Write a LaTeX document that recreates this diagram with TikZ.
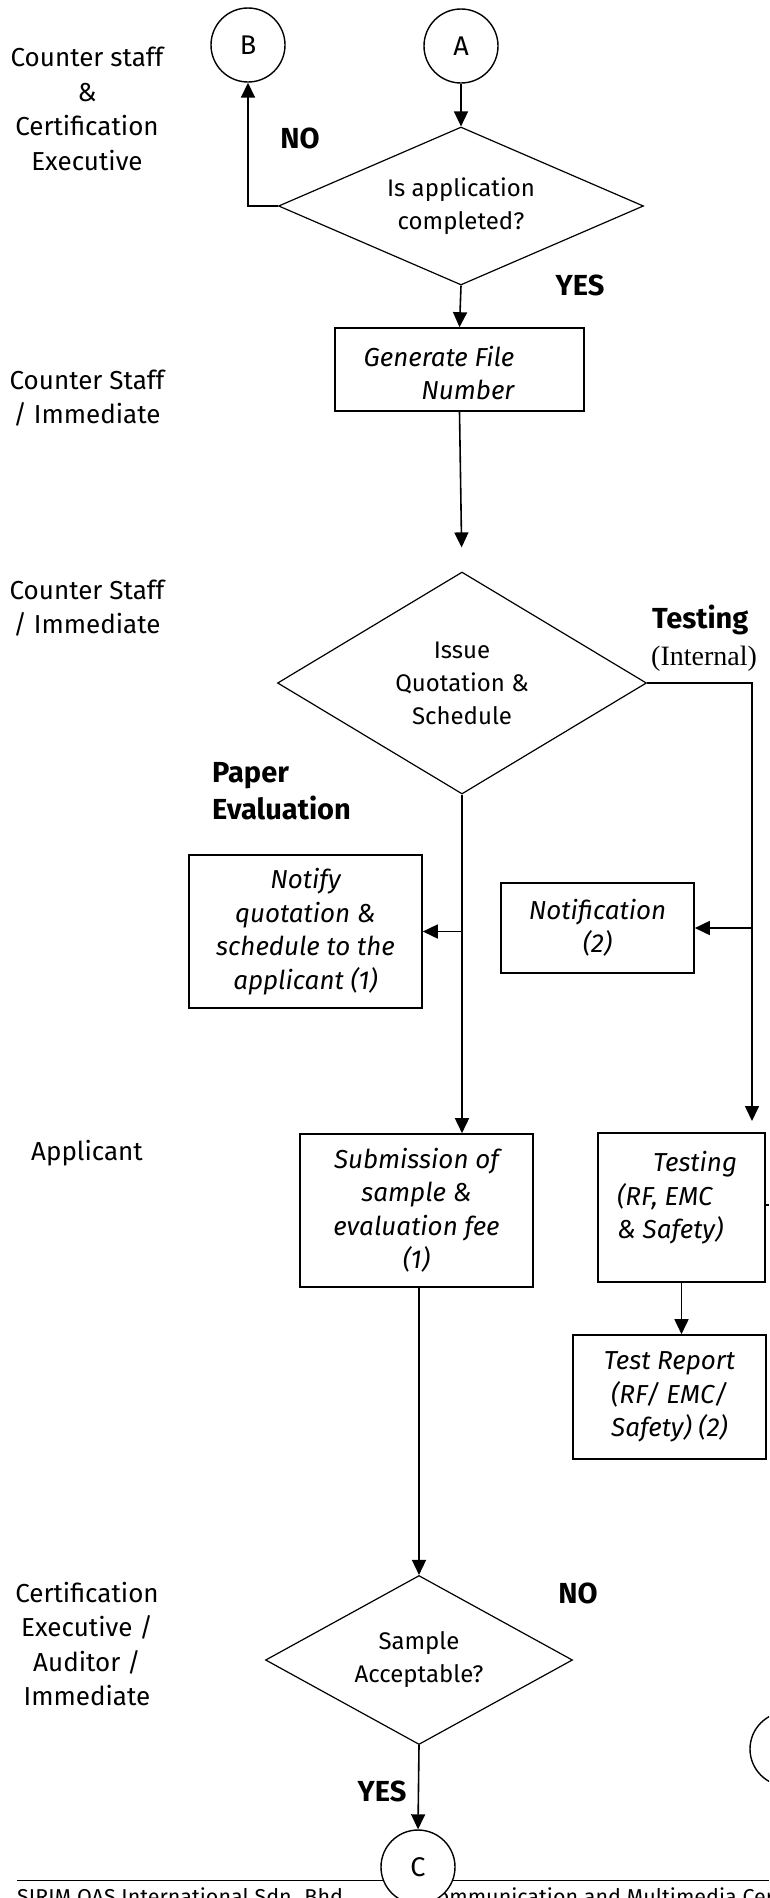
\documentclass[tikz,border=0pt]{standalone}
\usepackage{fontspec}
\setmainfont{Fira Sans}
\newfontfamily\serifface{Liberation Serif}
\usetikzlibrary{shapes.geometric,arrows.meta}
\begin{document}
\begin{tikzpicture}[x=1pt,y=-1pt,
  every node/.style={font=\fontsize{26}{34.5}\selectfont},
  ln/.style={line width=1.6pt},
  arr/.style={line width=1.6pt,-{Triangle[length=15pt,width=14pt]}},
  box/.style={draw,line width=1.6pt,rectangle,inner sep=0pt},
  dia/.style={draw,line width=1.2pt,diamond,inner sep=0pt,align=center,font=\fontsize{24}{33}\selectfont},
  conn/.style={draw,line width=1.4pt,circle,inner sep=0pt,minimum size=74pt,fill=white,font=\fontsize{27}{30}\selectfont},
  itx/.style={font=\fontsize{26}{33.5}\selectfont\itshape,align=center},
  role/.style={align=center},
  btx/.style={font=\fontsize{29}{37}\selectfont\bfseries,align=left,inner sep=0pt},
]
\useasboundingbox (0,0) rectangle (769,1898);
\clip (0,0) rectangle (769,1898);

% role labels
\node[role] (r1) at (87,109) {Counter staff\\\&\\Certification\\Executive};
\node[role] (r2) at (87,398) {Counter Staff\\/ Immediate};
\node[role] (r3) at (87,608) {Counter Staff\\/ Immediate};
\node[role] (r4) at (87,1153) {Applicant};
\node[role] (r5) at (87,1644) {Certification\\Executive /\\Auditor /\\Immediate};

% connectors (circles)
\node[conn] (B) at (248,45) {B};
\node[conn] (A) at (461,46) {A};

% decision 1
\node[dia,minimum width=365pt,minimum height=158pt,shape aspect=2.31] (d1) at (461,206) {Is application\\completed?};
\node[btx] (no1) at (300,138) {NO};
\node[btx] (yes1) at (580,285) {YES};

% generate file number
\node[box,minimum width=249pt,minimum height=83pt] (gen) at (459.5,369.5) {};
\node[itx,align=right] (gent) at (439,373) {Generate File\\Number};

% decision 2
\node[dia,minimum width=369pt,minimum height=222pt,shape aspect=1.66] (d2) at (462,683) {Issue\\Quotation \&\\Schedule};
\node[btx,anchor=west] (tst1) at (652,620) {Testing};
\node[anchor=west,inner sep=0pt,font=\fontsize{28}{30}\selectfont\serifface] (tst2) at (651,659) {(Internal)};
\node[btx,anchor=north west] (pe) at (212,762) {Paper\\Evaluation};

% notify / notification
\node[box,minimum width=233pt,minimum height=153pt,itx] (nfy) at (305.5,931.5) {Notify\\quotation \&\\schedule to the\\applicant (1)};
\node[box,minimum width=193pt,minimum height=90pt,itx] (ntf) at (597.5,928) {Notification\\(2)};

% submission / testing
\node[box,minimum width=233pt,minimum height=153pt,itx] (sub) at (416.5,1210.5) {Submission of\\sample \&\\evaluation fee\\(1)};
\node[box,minimum width=167pt,minimum height=149pt] (tbx) at (681.5,1207.5) {};
\node[itx,align=left,anchor=west,inner sep=0pt] (tbxt) at (617,1198) {\hspace*{36pt}Testing\\(RF, EMC\\\& Safety)};
\node[box,minimum width=193pt,minimum height=124pt,itx] (rep) at (669.5,1397) {Test Report\\(RF/ EMC/\\Safety) (2)};

% decision 3
\node[dia,minimum width=307pt,minimum height=169pt,shape aspect=1.82] (d3) at (419,1660) {Sample\\Acceptable?};
\node[btx] (no3) at (578,1593) {NO};
\node[btx] (yes3) at (382,1791) {YES};

% footer
\coordinate (fl) at (17,1880);
\coordinate (fr) at (769,1880);
\draw[line width=1pt] (fl) -- (fr);
\node[anchor=base west,inner sep=0pt,font=\fontsize{21.5}{24}\selectfont] (ft1) at (17,1904) {SIRIM QAS International Sdn. Bhd.};
\node[anchor=base west,inner sep=0pt,font=\fontsize{21.5}{24}\selectfont] (ft2) at (425,1904) {Communication and Multimedia Certification};

\node[conn] (C) at (418,1867) {C};
\node[conn] (D) at (787,1749) {};

% flows
\coordinate (tin) at (752,1121);
\coordinate (stub) at (769,1205);
\draw[arr] (A) -- (d1.north);
\draw[arr] (d1.west) -| (B.south);
\draw[arr] (d1.south) -- (gen.north);
\draw[arr,shorten >=24pt] (gen.south) -- (d2.north);
\draw[arr] (d2.east) -| (tin);
\draw[arr] (tin |- ntf.east) -- (ntf.east);
\draw[arr] (d2.south) -- (d2.south |- sub.north);
\draw[arr] (d2.south |- nfy.east) -- (nfy.east);
\draw[arr] (d3.north |- sub.south) -- (d3.north);
\draw[arr] (tbx.south) -- (tbx.south |- rep.north);
\draw[ln] (tbx.east |- stub) -- (stub);
\draw[arr] (d3.south) -- (C.north);
\end{tikzpicture}
\end{document}
